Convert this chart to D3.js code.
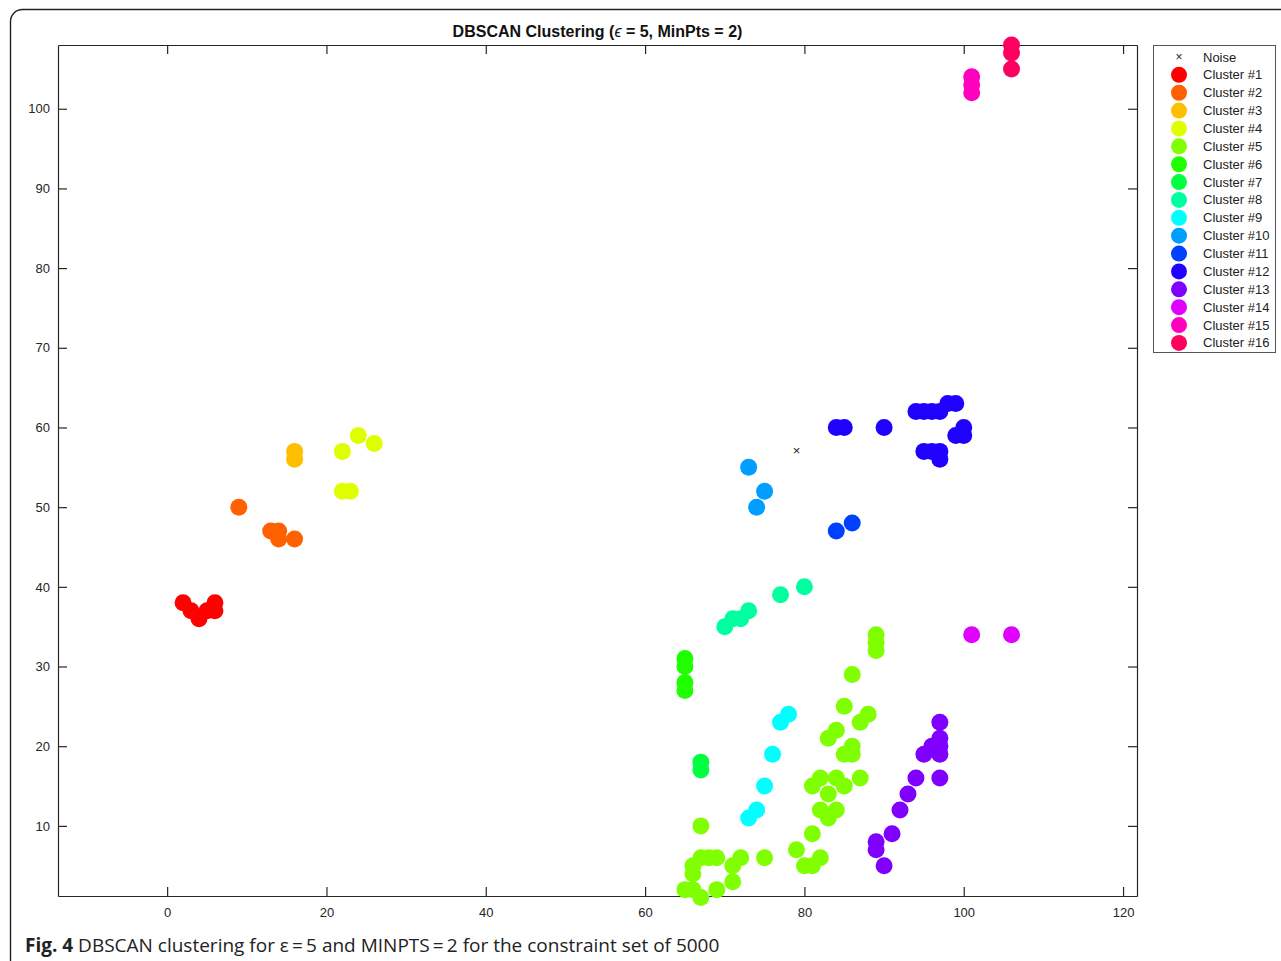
<!DOCTYPE html>
<html>
<head>
<meta charset="utf-8">
<script src="https://cdn.jsdelivr.net/npm/d3@7"></script>
<style>
  body { margin: 0; background: #fff; }
  svg { display: block; }
</style>
</head>
<body>
<div id="chart"></div>
<script>
const width = 1281;
const height = 961;
const margin = {top: 45, right: 144, bottom: 65, left: 58};

// points, [x, y]
const noise = [[79, 57]];
const cluster1 = [[2, 38], [3, 37], [4, 36], [5, 37], [6, 38], [6, 37]];
const cluster2 = [[9, 50], [13, 47], [14, 47], [14, 46], [16, 46]];
const cluster3 = [[16, 57], [16, 56]];
const cluster4 = [[24, 59], [26, 58], [22, 57], [22, 52], [23, 52]];
const cluster5 = [[89, 34], [89, 33], [89, 32], [86, 29], [85, 25], [88, 24], [87, 23],
    [84, 22], [83, 21], [86, 20], [85, 19], [86, 19], [82, 16], [84, 16], [87, 16],
    [81, 15], [85, 15], [83, 14], [82, 12], [84, 12], [83, 11], [81, 9], [79, 7],
    [82, 6], [80, 5], [81, 5], [67, 10], [75, 6], [67, 6], [68, 6], [69, 6], [66, 5],
    [66, 4], [72, 6], [71, 5], [71, 3], [65, 2], [66, 2], [69, 2], [67, 1]];
const cluster6 = [[65, 31], [65, 30], [65, 28], [65, 27]];
const cluster7 = [[67, 18], [67, 17]];
const cluster8 = [[80, 40], [77, 39], [73, 37], [72, 36], [71, 36], [70, 35]];
const cluster9 = [[78, 24], [77, 23], [76, 19], [75, 15], [74, 12], [73, 11]];
const cluster10 = [[73, 55], [75, 52], [74, 50]];
const cluster11 = [[84, 47], [86, 48]];
const cluster12 = [[84, 60], [85, 60], [90, 60], [94, 62], [95, 62], [96, 62], [97, 62],
    [98, 63], [99, 63], [100, 60], [99, 59], [100, 59], [95, 57], [96, 57], [97, 57], [97, 56]];
const cluster13 = [[97, 23], [97, 21], [97, 20], [96, 20], [95, 19], [97, 19], [94, 16],
    [97, 16], [93, 14], [92, 12], [91, 9], [89, 8], [89, 7], [90, 5]];
const cluster14 = [[101, 34], [106, 34]];
const cluster15 = [[101, 104], [101, 103], [101, 102]];
const cluster16 = [[106, 108], [106, 107], [106, 105]];

const clusters = [cluster1, cluster2, cluster3, cluster4, cluster5, cluster6, cluster7, cluster8,
    cluster9, cluster10, cluster11, cluster12, cluster13, cluster14, cluster15, cluster16];
const clusterNames = clusters.map((c, i) => `Cluster #${i + 1}`);

const xTicks = [0, 20, 40, 60, 80, 100, 120];
const yTicks = [10, 20, 30, 40, 50, 60, 70, 80, 90, 100];
const xDomain = [-13.7, 121.75];
const yDomain = [1.2, 108];

const titleText = "DBSCAN Clustering (";
const captionBold = "Fig. 4";
const captionText = " DBSCAN clustering for \u03b5\u2009=\u20095 and MINPTS\u2009=\u20092 for the constraint set of 5000";

// matlab hsv(16)
const color = i => d3.hsl(i * 360 / 16, 1, 0.5).formatHex();

const svg = d3.create("svg")
    .attr("width", width)
    .attr("height", height);

// outer rounded frame of the figure panel
svg.append("rect")
    .attr("x", 10.5)
    .attr("y", 9.5)
    .attr("width", 1300)
    .attr("height", 1000)
    .attr("rx", 12)
    .attr("fill", "none")
    .attr("stroke", "#222")
    .attr("stroke-width", 1.4);

const x = d3.scaleLinear()
    .domain(xDomain)
    .range([margin.left, width - margin.right]);

const y = d3.scaleLinear()
    .domain(yDomain)
    .range([height - margin.bottom, margin.top]);

const axisFont = "'Liberation Sans Narrow', 'Liberation Sans', Arial, sans-serif";
const axisColor = "#262626";

// axes, matlab style box with inward ticks
const gx = svg.append("g")
    .attr("transform", `translate(0,${height - margin.bottom})`)
    .call(d3.axisBottom(x).tickValues(xTicks).tickSize(-9).tickPadding(12).tickSizeOuter(0));
const gxTop = svg.append("g")
    .attr("transform", `translate(0,${margin.top})`)
    .call(d3.axisTop(x).tickValues(xTicks).tickSize(-9).tickFormat("").tickSizeOuter(0));
const gy = svg.append("g")
    .attr("transform", `translate(${margin.left},0)`)
    .call(d3.axisLeft(y).tickValues(yTicks).tickSize(-9).tickPadding(8).tickSizeOuter(0));
const gyRight = svg.append("g")
    .attr("transform", `translate(${width - margin.right},0)`)
    .call(d3.axisRight(y).tickValues(yTicks).tickSize(-9).tickFormat("").tickSizeOuter(0));

[gx, gxTop, gy, gyRight].forEach(g => {
    g.select(".domain").attr("stroke", axisColor).attr("stroke-width", 1.2);
    g.selectAll(".tick line").attr("stroke", axisColor).attr("stroke-width", 1.2);
    g.selectAll(".tick text")
        .attr("fill", axisColor)
        .attr("font-family", axisFont)
        .attr("font-size", "13px");
});

// points
const plot = svg.append("g");

plot.selectAll("text.noise")
    .data(noise)
    .join("text")
    .attr("class", "noise")
    .attr("x", d => x(d[0]))
    .attr("y", d => y(d[1]) + 4)
    .attr("text-anchor", "middle")
    .attr("font-family", "Arial, sans-serif")
    .attr("font-size", "13px")
    .attr("fill", "#222")
    .text("\u00d7");

clusters.forEach((pts, i) => {
    plot.append("g")
        .selectAll("circle")
        .data(pts)
        .join("circle")
        .attr("cx", d => x(d[0]))
        .attr("cy", d => y(d[1]))
        .attr("r", 8.5)
        .attr("fill", color(i));
});

// title
const title = svg.append("text")
    .attr("x", (margin.left + width - margin.right) / 2)
    .attr("y", 37)
    .attr("text-anchor", "middle")
    .attr("font-family", axisFont)
    .attr("font-size", "16px")
    .attr("font-weight", "bold")
    .attr("fill", "#111");
title.append("tspan").text(titleText);
title.append("tspan").attr("font-style", "italic").attr("font-weight", "normal").text("\u03f5");
title.append("tspan").text(" = 5, MinPts = 2)");

// legend
const legend = svg.append("g").attr("transform", "translate(1153,45)");
legend.append("rect")
    .attr("x", 0.5)
    .attr("y", 0.5)
    .attr("width", 122)
    .attr("height", 307)
    .attr("fill", "#fff")
    .attr("stroke", "#555")
    .attr("stroke-width", 1);

const rowH = 17.87;
const legendRows = [{name: "Noise", i: -1}].concat(clusterNames.map((n, i) => ({name: n, i: i})));

const row = legend.selectAll("g.row")
    .data(legendRows)
    .join("g")
    .attr("class", "row")
    .attr("transform", (d, k) => `translate(0,${12 + k * rowH})`);

row.filter(d => d.i >= 0)
    .append("circle")
    .attr("cx", 26)
    .attr("cy", 0)
    .attr("r", 8)
    .attr("fill", d => color(d.i));

row.filter(d => d.i < 0)
    .append("text")
    .attr("x", 26)
    .attr("y", 4)
    .attr("text-anchor", "middle")
    .attr("font-family", "Arial, sans-serif")
    .attr("font-size", "12px")
    .attr("fill", "#222")
    .text("\u00d7");

row.append("text")
    .attr("x", 50)
    .attr("y", 4.5)
    .attr("font-family", axisFont)
    .attr("font-size", "13px")
    .attr("fill", "#222")
    .text(d => d.name);

// caption
const caption = svg.append("text")
    .attr("x", 25)
    .attr("y", 952)
    .attr("font-family", "'Open Sans', sans-serif")
    .attr("font-size", "19px")
    .attr("fill", "#222");
caption.append("tspan").attr("font-weight", "bold").text(captionBold);
caption.append("tspan").text(captionText);

d3.select("#chart").append(() => svg.node());
</script>
</body>
</html>
